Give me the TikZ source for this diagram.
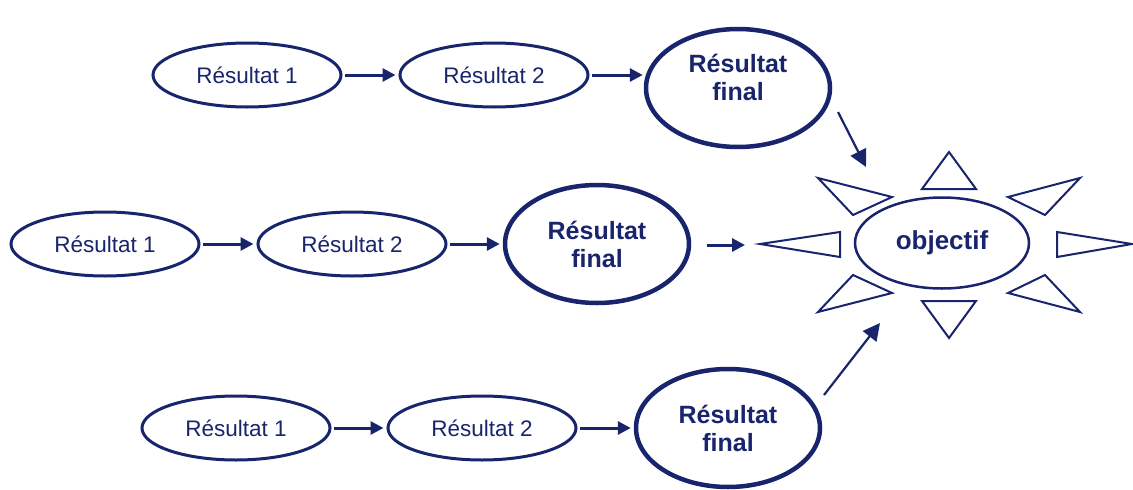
\documentclass[tikz,border=0pt]{standalone}
\usepackage{fontspec}
\setmainfont{Liberation Sans}
\usetikzlibrary{shapes.geometric,arrows.meta}
\definecolor{navy}{RGB}{24,36,108}
\tikzset{
  res/.style={ellipse, draw=navy, line width=3pt, minimum width=188pt, minimum height=64pt, inner sep=0pt,
    text=navy, font=\fontsize{22.5}{26}\selectfont},
  fin/.style={ellipse, draw=navy, line width=4.5pt, minimum width=184pt, minimum height=118pt, inner sep=0pt,
    text=navy, align=center, font=\bfseries\fontsize{25}{28}\selectfont},
  obj/.style={ellipse, draw=navy, line width=2.5pt, minimum width=174pt, minimum height=91pt, inner sep=0pt,
    text=navy, font=\bfseries\fontsize{26}{28}\selectfont},
  arr/.style={draw=navy, line width=3pt, -{Triangle[length=13pt,width=13pt]}, shorten <=2pt, shorten >=3pt},
  darr/.style={draw=navy, line width=2.2pt, -{Triangle[length=17pt,width=17pt]}},
  tri/.style={draw=navy, line width=2pt, line join=miter, fill=white}
}
\begin{document}
\begin{tikzpicture}[x=1pt,y=-1pt]
\useasboundingbox (0,0) rectangle (1133,490);
% row 1
\node[res] (a1) at (247,75) {Résultat 1};
\node[res] (a2) at (494,75) {Résultat 2};
\node[fin, text depth=22pt] (a3) at (738,88) {Résultat\\final};
% row 2
\node[res] (b1) at (105,244) {Résultat 1};
\node[res] (b2) at (352,244) {Résultat 2};
\node[fin] (b3) at (597,244) {Résultat\\final};
% row 3
\node[res] (c1) at (236,428) {Résultat 1};
\node[res] (c2) at (482,428) {Résultat 2};
\node[fin] (c3) at (728,428) {Résultat\\final};
% objective
\node[obj] (o) at (942,243) {objectif};
% sun triangles
\draw[tri] (949,152) -- (922,189) -- (976,189) -- cycle;
\draw[tri] (949,338) -- (922,301) -- (976,301) -- cycle;
\draw[tri] (760,244) -- (840,232) -- (840,257) -- cycle;
\draw[tri] (1132,244) -- (1057,232) -- (1057,257) -- cycle;
\draw[tri] (818,178) -- (892,197) -- (853,215) -- cycle;
\draw[tri] (1080,178) -- (1008,197) -- (1045,215) -- cycle;
\draw[tri] (853,275) -- (892,293) -- (818,312) -- cycle;
\draw[tri] (1045,275) -- (1008,293) -- (1080,312) -- cycle;
% arrows
\draw[arr] (a1) -- (a2);
\draw[arr] (a2.east) -- ([xshift=2pt]a2.east -| a3.west);
\draw[arr] (b1) -- (b2);
\draw[arr] (b2) -- (b3);
\draw[arr] (c1) -- (c2);
\draw[arr] (c2) -- (c3);
\coordinate (b3s) at (707,245);
\coordinate (b3e) at (745,245);
\draw[arr, shorten <=0pt, shorten >=0pt] (b3s) -- (b3e);
\coordinate (a3s) at (838,112);
\coordinate (a3e) at (866,167);
\draw[darr] (a3s) -- (a3e);
\coordinate (c3s) at (824,395);
\coordinate (c3e) at (880,323);
\draw[darr] (c3s) -- (c3e);
\end{tikzpicture}
\end{document}
